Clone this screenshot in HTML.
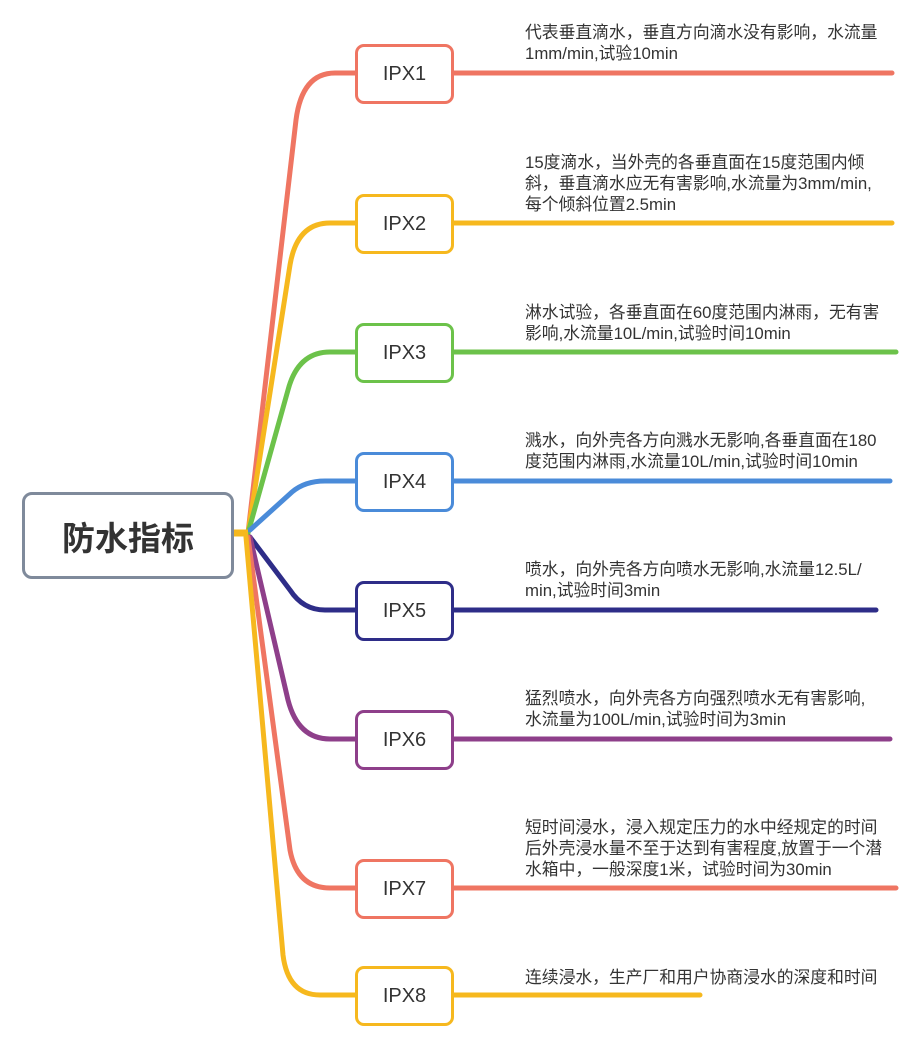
<!DOCTYPE html>
<html><head><meta charset="utf-8"><style>
body{margin:0;width:916px;height:1046px;background:#fff;position:relative;overflow:hidden;font-family:"Liberation Sans","Noto Sans CJK SC",sans-serif;}
.t{position:absolute;left:525px;font-size:16.8px;line-height:21px;color:#333;white-space:nowrap;}
.n{position:absolute;left:355px;width:93px;height:54px;border:3px solid;border-radius:9px;background:#fff;font-size:20px;color:#333;display:flex;align-items:center;justify-content:center;box-sizing:content-box;}
.root{position:absolute;left:22px;top:492px;width:206px;height:81px;border:3px solid #7f8a9b;border-radius:10px;background:#fff;display:flex;align-items:center;justify-content:center;font-size:33px;font-weight:bold;color:#333;}
</style></head><body>
<svg width="916" height="1046" style="position:absolute;left:0;top:0" fill="none" stroke-linecap="round">
<g stroke-width="5">
<path d="M248,533 L296,120 Q302,73 335,73 L892,73" stroke="#ef7562"/>
<path d="M248,533 L290,265 Q297,223 330,223 L892,223" stroke="#f6b81e"/>
<path d="M248,533 L288,390 Q298,352 330,352 L896,352" stroke="#6cc24a"/>
<path d="M250,530 L292,492 Q305,481 325,481 L890,481" stroke="#4a8bd9"/>
<path d="M250,537 L290,590 Q303,610 325,610 L876,610" stroke="#2e2d88"/>
<path d="M250,537 L288,700 Q298,739 330,739 L890,739" stroke="#8e3f8a"/>
<path d="M248,537 L290,850 Q297,888 330,888 L896,888" stroke="#ef7562"/>
<path d="M246,537 L283,955 Q288,995 320,995 L700,995" stroke="#f6b81e"/>
<path d="M233,533 L248,533" stroke="#f6b81e" stroke-width="7" stroke-linecap="butt"/>
</g></svg>
<div class="root">防水指标</div>
<div class="n" style="top:44px;border-color:#ef7562">IPX1</div>
<div class="n" style="top:194px;border-color:#f6b81e">IPX2</div>
<div class="n" style="top:323px;border-color:#6cc24a">IPX3</div>
<div class="n" style="top:452px;border-color:#4a8bd9">IPX4</div>
<div class="n" style="top:581px;border-color:#2e2d88">IPX5</div>
<div class="n" style="top:710px;border-color:#8e3f8a">IPX6</div>
<div class="n" style="top:859px;border-color:#ef7562">IPX7</div>
<div class="n" style="top:966px;border-color:#f6b81e">IPX8</div>
<div class="t" style="top:22px">代表垂直滴水，垂直方向滴水没有影响，水流量<br>1mm/min,试验10min</div>
<div class="t" style="top:152px">15度滴水，当外壳的各垂直面在15度范围内倾<br>斜，垂直滴水应无有害影响,水流量为3mm/min,<br>每个倾斜位置2.5min</div>
<div class="t" style="top:302px">淋水试验，各垂直面在60度范围内淋雨，无有害<br>影响,水流量10L/min,试验时间10min</div>
<div class="t" style="top:430px">溅水，向外壳各方向溅水无影响,各垂直面在180<br>度范围内淋雨,水流量10L/min,试验时间10min</div>
<div class="t" style="top:559px">喷水，向外壳各方向喷水无影响,水流量12.5L/<br>min,试验时间3min</div>
<div class="t" style="top:688px">猛烈喷水，向外壳各方向强烈喷水无有害影响,<br>水流量为100L/min,试验时间为3min</div>
<div class="t" style="top:817px">短时间浸水，浸入规定压力的水中经规定的时间<br>后外壳浸水量不至于达到有害程度,放置于一个潜<br>水箱中，一般深度1米，试验时间为30min</div>
<div class="t" style="top:967px">连续浸水，生产厂和用户协商浸水的深度和时间</div>
</body></html>
